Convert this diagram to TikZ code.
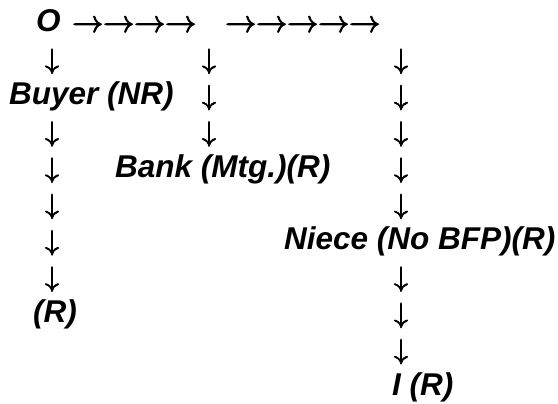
\documentclass[tikz,border=0pt]{standalone}
\usepackage{fontspec}
\setmainfont{Liberation Sans}
\usepackage{graphicx}
\usepackage{tikz}

% arrows a little heavier, as in the drawing
\newcommand{\heavy}[1]{\special{pdf:literal direct 2 Tr 0.27 w}#1\special{pdf:literal direct 0 Tr}}
\newcommand{\bigdown}{\scalebox{2.8}{\heavy{$\downarrow$}}}
\newcommand{\bigright}{\scalebox{3.1}{\heavy{$\rightarrow$}}}

\tikzset{
  party/.style={font=\fontsize{31.5}{32}\selectfont\bfseries\itshape, anchor=base west, inner sep=0pt},
  darrow/.style={anchor=base, inner sep=0pt},
  rarrow/.style={anchor=base west, inner sep=0pt}
}

\begin{document}
\begin{tikzpicture}[x=1pt,y=-36.3pt]
\useasboundingbox (0pt,32pt) rectangle (558pt,-372pt);
% chain of title
\node [party] (o) at (36,0) {O};
\node [rarrow] (ra) at (72,0) {\bigright\bigright\bigright\bigright};
\node [rarrow] (rb) at (225,0) {\bigright\bigright\bigright\bigright\bigright};
\node [party] (buyer) at (9,2) {Buyer (NR)};
\node [party] (bank) at (115,4) {Bank (Mtg.)(R)};
\node [party] (niece) at (284,6) {Niece (No BFP)(R)};
\node [party] (r) at (33,8) {(R)};
\node [party] (i) at (392,10) {I (R)};
% down arrows
\foreach \r in {1,3,4,5,6,7}
  \node [darrow] (left\r) at (52,\r) {\bigdown};
\foreach \r in {1,2,3}
  \node [darrow] (mid\r) at (209,\r) {\bigdown};
\foreach \r in {1,2,3,4,5,7,8,9}
  \node [darrow] (right\r) at (401,\r) {\bigdown};
\end{tikzpicture}
\end{document}
